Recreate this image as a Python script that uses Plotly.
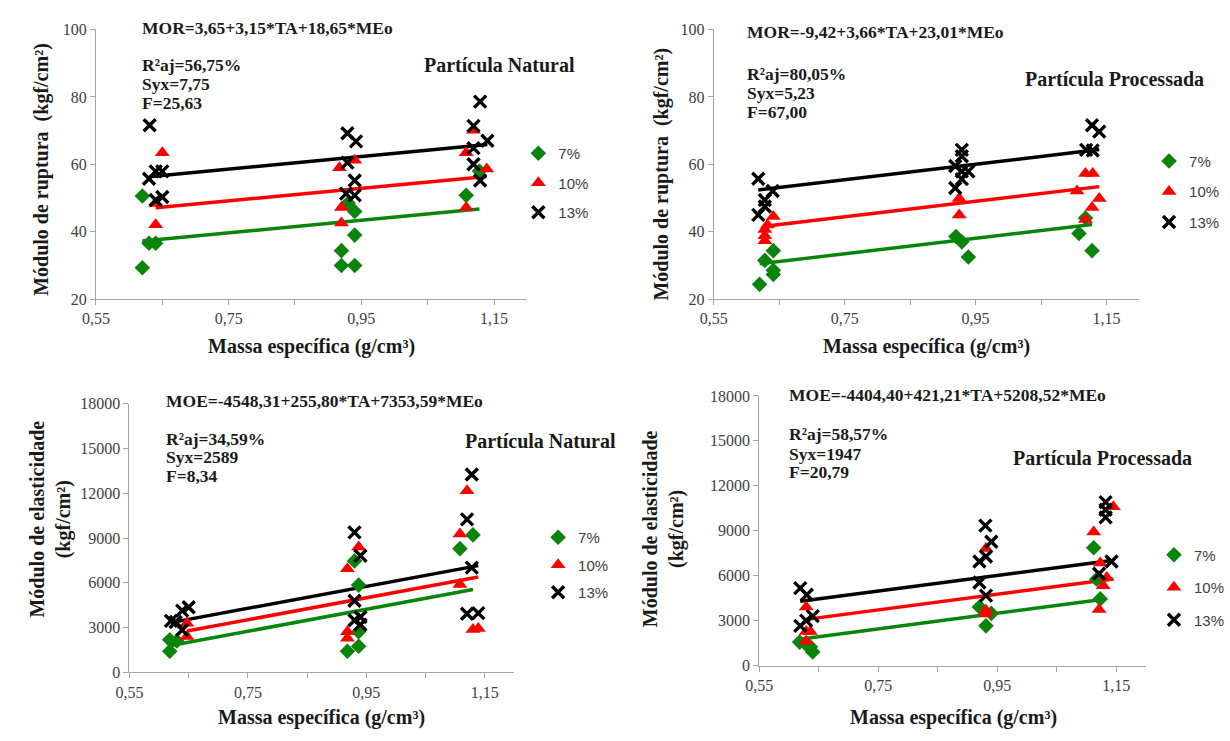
import plotly.graph_objects as go

# ---------------- data ----------------
adhesive_levels = [7, 10, 13]
series_labels = ["7%", "10%", "13%"]
x_tick_vals = [0.55, 0.75, 0.95, 1.15]
x_tick_text = ["0,55", "0,75", "0,95", "1,15"]
x_minor_vals = [0.65, 0.85, 1.05]
mor_ticks = [20, 40, 60, 80, 100]
moe_ticks = [0, 3000, 6000, 9000, 12000, 15000, 18000]

# Panel 1: MOR, natural particle
mor_nat_x7 = [0.62, 0.63, 0.64, 0.62, 0.92, 0.92, 0.94, 0.94, 0.94, 0.93, 1.108, 1.128]
mor_nat_y7 = [50.6, 36.6, 36.6, 29.3, 34.4, 30.0, 30.0, 39.0, 46.0, 48.5, 50.8, 58.0]
mor_nat_x10 = [0.65, 0.64, 0.64, 0.917, 0.94, 0.92, 0.92, 1.119, 1.108, 1.139, 1.108]
mor_nat_y10 = [63.4, 42.1, 48.4, 59.0, 61.2, 47.2, 42.6, 70.1, 63.4, 58.6, 47.2]
mor_nat_x13 = [0.631, 0.63, 0.64, 0.65, 0.64, 0.65, 0.929, 0.942, 0.929, 0.94, 0.927, 0.94,
               1.129, 1.119, 1.14, 1.119, 1.119, 1.129]
mor_nat_y13 = [71.6, 55.7, 57.9, 57.9, 49.4, 50.3, 69.2, 66.8, 60.5, 55.2, 51.3, 50.8,
               78.6, 71.4, 67.0, 64.8, 60.0, 55.2]
mor_nat_coef = [3.65, 3.15, 18.65]
mor_nat_stats = ["MOR=3,65+3,15*TA+18,65*MEo", "R²aj=56,75%", "Syx=7,75", "F=25,63"]

# Panel 2: MOR, processed particle
mor_proc_x7 = [0.62, 0.628, 0.641, 0.641, 0.641, 0.92, 0.929, 0.939, 1.108, 1.118, 1.128]
mor_proc_y7 = [24.4, 31.5, 34.4, 28.6, 27.3, 38.6, 37.0, 32.5, 39.5, 44.1, 34.4]
mor_proc_x10 = [0.628, 0.628, 0.628, 0.641, 0.632, 0.925, 0.925, 1.118, 1.129, 1.105, 1.139, 1.128, 1.118]
mor_proc_y10 = [40.7, 38.8, 37.3, 44.5, 42.0, 49.9, 45.0, 57.3, 57.3, 52.1, 49.9, 47.2, 43.6]
mor_proc_x13 = [0.618, 0.618, 0.628, 0.64, 0.628, 0.929, 0.929, 0.919, 0.929, 0.939, 0.919, 0.929,
                1.128, 1.139, 1.119, 1.129]
mor_proc_y13 = [55.7, 45.0, 49.4, 52.1, 47.5, 64.3, 62.4, 59.5, 57.9, 57.9, 53.0, 55.6,
                71.6, 69.7, 64.3, 64.1]
mor_proc_coef = [-9.42, 3.66, 23.01]
mor_proc_stats = ["MOR=-9,42+3,66*TA+23,01*MEo", "R²aj=80,05%", "Syx=5,23", "F=67,00"]

# Panel 3: MOE, natural particle
moe_nat_x7 = [0.618, 0.618, 0.63, 0.93, 0.937, 0.937, 0.937, 0.918, 1.108, 1.13]
moe_nat_y7 = [2180, 1420, 2100, 7460, 5850, 2730, 1750, 1420, 8290, 9210]
moe_nat_x10 = [0.647, 0.647, 0.918, 0.937, 0.918, 0.918, 1.12, 1.108, 1.108, 1.13, 1.139]
moe_nat_y10 = [2400, 3300, 6940, 8400, 2730, 2290, 12170, 9270, 5890, 2880, 2945]
moe_nat_x13 = [0.62, 0.628, 0.639, 0.639, 0.65, 0.93, 0.94, 0.93, 0.93, 0.94, 0.94,
               1.128, 1.12, 1.128, 1.12, 1.139]
moe_nat_y13 = [3450, 3380, 2840, 4140, 4360, 9380, 7810, 4800, 3490, 3710, 3200,
               13260, 10250, 7020, 3930, 3970]
moe_nat_coef = [-4548.31, 255.80, 7353.59]
moe_nat_stats = ["MOE=-4548,31+255,80*TA+7353,59*MEo", "R²aj=34,59%", "Syx=2589", "F=8,34"]

# Panel 4: MOE, processed particle
moe_proc_x7 = [0.618, 0.629, 0.636, 0.64, 0.92, 0.931, 0.94, 1.112, 1.117, 1.123]
moe_proc_y7 = [1565, 1410, 1260, 910, 3910, 2650, 3480, 7860, 5760, 4450]
moe_proc_x10 = [0.629, 0.629, 0.636, 0.629, 0.931, 0.931, 0.931, 1.112, 1.145, 1.123, 1.134, 1.128, 1.121]
moe_proc_y10 = [3910, 2280, 2280, 1630, 7820, 3690, 3440, 8910, 10600, 6850, 5870, 5320, 3740]
moe_proc_x13 = [0.619, 0.63, 0.619, 0.629, 0.64, 0.93, 0.94, 0.931, 0.92, 0.92, 0.931,
                1.132, 1.132, 1.142, 1.121, 1.132]
moe_proc_y13 = [5170, 4730, 2650, 3000, 3300, 9340, 8260, 7280, 6950, 5540, 4670,
                10910, 9890, 6950, 6130, 10400]
moe_proc_coef = [-4404.40, 421.21, 5208.52]
moe_proc_stats = ["MOE=-4404,40+421,21*TA+5208,52*MEo", "R²aj=58,57%", "Syx=1947", "F=20,79"]

x_title = "Massa específica (g/cm³)"
mor_title = "Módulo de ruptura  (kgf/cm²)"
moe_title = "Módulo de elasticidade<br>(kgf/cm²)"
label_nat = "Partícula Natural"
label_proc = "Partícula Processada"

# ---------------- styling ----------------
W, H = 1230, 741
COLORS = ["#0b840b", "#ff0000", "#000000"]
SERIF = "Liberation Serif"
SANS = "Liberation Sans"
AXIS_GREY = "#a6a6a6"
TEXT_DARK = "#1a1a1a"

def px_x(p):
    return p / W

def px_y(p):
    return 1 - p / H

markers = [
    dict(symbol="diamond", size=12, color=COLORS[0], line=dict(width=0)),
    dict(symbol="triangle-up", size=13, color=COLORS[1], line=dict(width=0)),
    dict(symbol="x-thin", size=12, color=COLORS[2], line=dict(width=3.4, color=COLORS[2])),
]

panels = [
    dict(xs=[mor_nat_x7, mor_nat_x10, mor_nat_x13], ys=[mor_nat_y7, mor_nat_y10, mor_nat_y13],
         coef=mor_nat_coef, stats=mor_nat_stats, label=label_nat, ytitle=mor_title,
         yticks=mor_ticks, yrange=[20, 100],
         box=(83, 520, 22, 298), stat_x=128, stat_y=[20, 58, 78, 97], label_pos=(413, 58),
         xt_pos=(301, 346), yt_pos=(28, 165), leg=(511, 132), leg_gap=7),
    dict(xs=[mor_proc_x7, mor_proc_x10, mor_proc_x13], ys=[mor_proc_y7, mor_proc_y10, mor_proc_y13],
         coef=mor_proc_coef, stats=mor_proc_stats, label=label_proc, ytitle=mor_title,
         yticks=mor_ticks, yrange=[20, 100],
         box=(709, 1140, 22, 298), stat_x=741, stat_y=[25, 68, 87, 106], label_pos=(1022, 73),
         xt_pos=(925, 346), yt_pos=(656, 170), leg=(1150, 140), leg_gap=8),
    dict(xs=[moe_nat_x7, moe_nat_x10, moe_nat_x13], ys=[moe_nat_y7, moe_nat_y10, moe_nat_y13],
         coef=moe_nat_coef, stats=moe_nat_stats, label=label_nat, ytitle=moe_title,
         yticks=moe_ticks, yrange=[0, 18000],
         box=(117, 507, 405, 680), stat_x=152, stat_y=[402, 441, 460, 479], label_pos=(455, 443),
         xt_pos=(312, 726), yt_pos=(36, 523), leg=(531, 525), leg_gap=5),
    dict(xs=[moe_proc_x7, moe_proc_x10, moe_proc_x13], ys=[moe_proc_y7, moe_proc_y10, moe_proc_y13],
         coef=moe_proc_coef, stats=moe_proc_stats, label=label_proc, ytitle=moe_title,
         yticks=moe_ticks, yrange=[0, 18000],
         box=(755, 1147, 397, 673), stat_x=783, stat_y=[396, 436, 456, 475], label_pos=(1010, 461),
         xt_pos=(952, 726), yt_pos=(658, 533), leg=(1155, 543), leg_gap=10),
]

fig = go.Figure()
annotations = []
layout_axes = {}

for i, p in enumerate(panels):
    k = i + 1
    xa = "x" if k == 1 else f"x{k}"
    ya = "y" if k == 1 else f"y{k}"
    leg = "legend" if k == 1 else f"legend{k}"
    b0, b1, c0, c1 = p["box"]
    # trend lines from the fitted equation, over each series' x range
    for j, ta in enumerate(adhesive_levels):
        xmin, xmax = min(p["xs"][j]), max(p["xs"][j])
        a, bta, bme = p["coef"]
        fig.add_trace(go.Scatter(
            x=[xmin, xmax], y=[a + bta * ta + bme * xmin, a + bta * ta + bme * xmax],
            mode="lines", line=dict(color=COLORS[j], width=3.5),
            xaxis=xa, yaxis=ya, showlegend=False, hoverinfo="skip"))
    for j in range(3):
        fig.add_trace(go.Scatter(
            x=p["xs"][j], y=p["ys"][j], mode="markers", marker=markers[j],
            name=series_labels[j], xaxis=xa, yaxis=ya, legend=leg,
            legendgroup=f"p{k}_{j}", showlegend=True))

    xkey = "xaxis" if k == 1 else f"xaxis{k}"
    ykey = "yaxis" if k == 1 else f"yaxis{k}"
    layout_axes[xkey] = dict(
        domain=[px_x(b0), px_x(b1)], anchor=ya, range=[0.55, 1.2],
        tickvals=x_tick_vals, ticktext=x_tick_text, ticks="outside", ticklen=5,
        tickcolor=AXIS_GREY, showline=True, linecolor=AXIS_GREY, linewidth=1,
        showgrid=False, zeroline=False,
        minor=dict(tickvals=x_minor_vals, ticks="outside", ticklen=5, tickcolor=AXIS_GREY, showgrid=False),
        tickfont=dict(family=SERIF, size=16, color="#404040"))
    layout_axes[ykey] = dict(
        domain=[px_y(c1), px_y(c0)], anchor=xa, range=p["yrange"],
        tickvals=p["yticks"], ticktext=[str(v) for v in p["yticks"]], ticks="outside", ticklen=5,
        tickcolor=AXIS_GREY, showline=True, linecolor=AXIS_GREY, linewidth=1,
        showgrid=False, zeroline=False,
        tickfont=dict(family=SERIF, size=16, color="#404040"))

    lx, ly = p["leg"]
    layout_axes[leg] = dict(
        x=px_x(lx), y=px_y(ly), xanchor="left", yanchor="top",
        bgcolor="rgba(0,0,0,0)", itemwidth=30, tracegroupgap=p["leg_gap"],
        font=dict(family=SANS, size=15, color="#404040"))

    for t, yy in zip(p["stats"], p["stat_y"]):
        annotations.append(dict(
            text="<b>" + t + "</b>", x=px_x(p["stat_x"]), y=px_y(yy), xref="paper", yref="paper",
            xanchor="left", yanchor="middle", showarrow=False,
            font=dict(family=SERIF, size=17.5, color=TEXT_DARK)))
    annotations.append(dict(
        text="<b>" + p["label"] + "</b>", x=px_x(p["label_pos"][0]), y=px_y(p["label_pos"][1]),
        xref="paper", yref="paper", xanchor="left", yanchor="middle", showarrow=False,
        font=dict(family=SERIF, size=20, color=TEXT_DARK)))
    annotations.append(dict(
        text="<b>" + x_title + "</b>", x=px_x(p["xt_pos"][0]), y=px_y(p["xt_pos"][1]),
        xref="paper", yref="paper", xanchor="center", yanchor="middle", showarrow=False,
        font=dict(family=SERIF, size=20, color=TEXT_DARK)))
    annotations.append(dict(
        text="<b>" + p["ytitle"].replace("<br>", "</b><br><b>") + "</b>",
        x=px_x(p["yt_pos"][0]), y=px_y(p["yt_pos"][1]), textangle=-90,
        xref="paper", yref="paper", xanchor="center", yanchor="middle", showarrow=False,
        font=dict(family=SERIF, size=20, color=TEXT_DARK)))

fig.update_layout(
    width=W, height=H, margin=dict(l=0, r=0, t=0, b=0),
    paper_bgcolor="white", plot_bgcolor="white",
    annotations=annotations, **layout_axes)

fig.write_html("out.html", config={"displayModeBar": False},
               post_script="document.body.style.margin='0';")
